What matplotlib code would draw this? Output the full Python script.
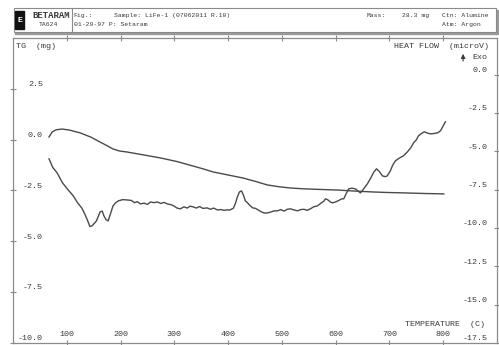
import matplotlib.pyplot as plt
from matplotlib.patches import Rectangle

# TG curve (mg) vs temperature (C)
temp_tg = [67, 73, 80, 91, 105, 125, 145, 162, 175, 186, 198, 212, 240, 274,
           305, 335, 355, 372, 400, 428, 450, 473, 495, 516, 540, 570, 603,
           635, 665, 695, 726, 765, 801]
tg = [0.13, 0.38, 0.48, 0.52, 0.47, 0.33, 0.12, -0.12, -0.30, -0.46, -0.56,
      -0.61, -0.74, -0.90, -1.08, -1.30, -1.45, -1.59, -1.74, -1.89, -2.05,
      -2.23, -2.32, -2.38, -2.42, -2.45, -2.48, -2.53, -2.57, -2.60, -2.62,
      -2.65, -2.67]

# heat flow curve (microV) vs temperature (C)
temp_hf = [67, 74, 82, 92, 101, 112, 120, 128, 133, 138, 143, 147, 155, 162,
           166, 169, 173, 177, 181, 186, 191, 196, 204, 212, 220, 226, 231,
           237, 244, 250, 256, 262, 268, 275, 281, 287, 294, 300, 305, 311,
           318, 324, 329, 335, 341, 347, 353, 361, 367, 373, 380, 387, 393,
           398, 404, 410, 414, 417, 421, 425, 429, 432, 436, 441, 446, 451,
           457, 462, 467, 473, 480, 486, 492, 498, 504, 510, 516, 522, 529,
           535, 541, 547, 553, 559, 566, 572, 578, 581, 585, 590, 594, 600,
           606, 611, 615, 619, 624, 630, 637, 642, 646, 652, 659, 665, 671,
           676, 681, 687, 692, 696, 702, 706, 711, 718, 726, 733, 740, 745,
           750, 754, 759, 765, 770, 775, 780, 785, 790, 795, 799, 804]
hf = [-5.49, -6.05, -6.40, -7.05, -7.45, -7.90, -8.35, -8.70, -9.05, -9.45,
      -9.90, -9.86, -9.55, -8.95, -8.90, -9.20, -9.45, -9.54, -9.10, -8.56,
      -8.35, -8.23, -8.15, -8.17, -8.20, -8.35, -8.28, -8.43, -8.38, -8.46,
      -8.30, -8.35, -8.30, -8.40, -8.33, -8.43, -8.48, -8.58, -8.70, -8.75,
      -8.62, -8.70, -8.58, -8.62, -8.70, -8.60, -8.72, -8.69, -8.78, -8.70,
      -8.82, -8.80, -8.85, -8.82, -8.82, -8.70, -8.36, -8.00, -7.65, -7.58,
      -7.90, -8.23, -8.35, -8.55, -8.69, -8.72, -8.85, -8.95, -9.02, -9.02,
      -8.95, -8.88, -8.88, -8.80, -8.90, -8.78, -8.75, -8.82, -8.88, -8.80,
      -8.78, -8.85, -8.75, -8.62, -8.56, -8.40, -8.25, -8.10, -8.15, -8.30,
      -8.36, -8.30, -8.20, -8.10, -8.10, -7.80, -7.45, -7.40, -7.45, -7.60,
      -7.71, -7.45, -7.12, -6.75, -6.35, -6.14, -6.30, -6.60, -6.65, -6.60,
      -6.25, -5.90, -5.62, -5.45, -5.29, -5.05, -4.75, -4.44, -4.25, -3.99,
      -3.85, -3.72, -3.80, -3.85, -3.85, -3.82, -3.79, -3.65, -3.40, -3.07]

tg_ticks = [2.5, 0.0, -2.5, -5.0, -7.5, -10.0]
hf_ticks = [0.0, -2.5, -5.0, -7.5, -10.0, -12.5, -15.0, -17.5]
temp_ticks = [100, 200, 300, 400, 500, 600, 700, 800]

ink = '#3a3a3a'
frame = '#8a8a8a'
font = dict(family='Liberation Mono', size=6, color=ink)
small = dict(family='Liberation Mono', size=4.6, color=ink)

fig = plt.figure(figsize=(4.99, 3.45), dpi=100)

# instrument header box with its drop shadow
fig.patches.append(Rectangle((0.030, 0.902), 0.968, 0.070,
                             transform=fig.transFigure, color='#9a9a9a'))
fig.patches.append(Rectangle((0.028, 0.907), 0.966, 0.070,
                             transform=fig.transFigure, facecolor='white',
                             edgecolor=frame, lw=0.8))
fig.patches.append(Rectangle((0.031, 0.916), 0.017, 0.052,
                             transform=fig.transFigure, color='#111'))
fig.text(0.0395, 0.942, 'E', ha='center', va='center', family='Liberation Mono',
         size=6, color='white', weight='bold')
fig.lines.append(plt.Line2D([0.144, 0.144], [0.907, 0.977],
                            transform=fig.transFigure, color=frame, lw=0.8))
fig.text(0.064, 0.954, 'BETARAM', ha='left', va='center', weight='bold',
         family='Liberation Mono', size=6.5, color=ink)
fig.text(0.078, 0.928, 'TA624', ha='left', va='center', **small)
fig.text(0.148, 0.954, 'Fig.:', ha='left', va='center', **small)
fig.text(0.148, 0.928, '01-29-97 P: Setaram', ha='left', va='center', **small)
fig.text(0.229, 0.954, 'Sample: LiFe-1 (07062011 R.10)', ha='left', va='center', **small)
fig.text(0.735, 0.954, 'Mass:', ha='left', va='center', **small)
fig.text(0.806, 0.954, '28.3 mg', ha='left', va='center', **small)
fig.text(0.886, 0.954, 'Ctn: Alumine', ha='left', va='center', **small)
fig.text(0.886, 0.928, 'Atm: Argon', ha='left', va='center', **small)

ax = fig.add_axes([0.026, 0.006, 0.970, 0.884])
ax2 = ax.twinx()

ax.plot(temp_tg, tg, color='#4a4a4a', lw=1.0)
ax2.plot(temp_hf, hf, color='#4a4a4a', lw=1.0)

ax.set_xlim(0, 900)
ax.set_ylim(-10, 5)
ax2.set_ylim(-17.5, 2.4)

for a in (ax, ax2):
    for s in a.spines.values():
        s.set_color(frame)
        s.set_linewidth(0.8)

ax.set_xticks(temp_ticks)
ax.set_xticklabels([])
ax.tick_params(axis='x', which='both', direction='inout', length=4,
               color=frame, top=True)
ax.set_yticks(tg_ticks)
ax.set_yticklabels([])
ax.tick_params(axis='y', direction='inout', length=4, color=frame)
ax2.set_yticks(hf_ticks)
ax2.set_yticklabels([])
ax2.tick_params(axis='y', direction='inout', length=4, color=frame)

# tick labels sit inside the frame
for t in temp_ticks:
    ax.annotate(str(t), (t, 0), xycoords=('data', 'axes fraction'),
                xytext=(0, 6), textcoords='offset points',
                ha='center', va='center', **font)
for v in tg_ticks:
    ax.annotate(f'{v:.1f}', (0.062, v), xycoords=('axes fraction', 'data'),
                xytext=(0, 3), textcoords='offset points',
                ha='right', va='center', **font)
for v in hf_ticks:
    ax2.annotate(f'{v:.1f}', (0.981, v), xycoords=('axes fraction', 'data'),
                 xytext=(0, 3), textcoords='offset points',
                 ha='right', va='center', **font)

ax.text(0.006, 0.985, 'TG  (mg)', transform=ax.transAxes, ha='left', va='top', **font)
ax.text(0.983, 0.985, 'HEAT FLOW  (microV)', transform=ax.transAxes,
        ha='right', va='top', **font)
ax.annotate('', xy=(0.930, 0.957), xytext=(0.930, 0.915), xycoords='axes fraction',
            arrowprops=dict(arrowstyle='-|>', color=ink, lw=0.8, mutation_scale=6))
ax.text(0.950, 0.937, 'Exo', transform=ax.transAxes, ha='left', va='center', **font)
ax.text(0.976, 0.062, 'TEMPERATURE  (C)', transform=ax.transAxes,
        ha='right', va='center', **font)

fig.savefig('out.png', dpi=100)
